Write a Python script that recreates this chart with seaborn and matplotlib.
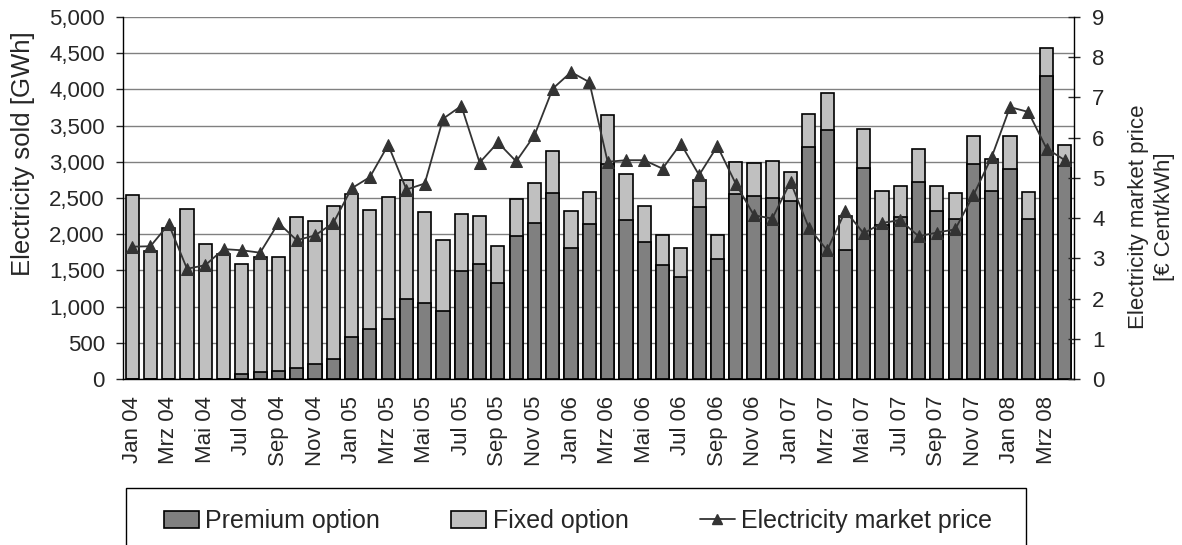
import numpy as np
import pandas as pd
import matplotlib
matplotlib.use('Agg')
import matplotlib.pyplot as plt
from matplotlib.patches import Patch, Rectangle
from matplotlib.lines import Line2D
import seaborn as sns

# monthly data Jan 04 - Apr 08
years = ['04', '05', '06', '07', '08']
month_names = ['Jan', 'Feb', 'Mrz', 'Apr', 'Mai', 'Jun', 'Jul', 'Aug', 'Sep', 'Okt', 'Nov', 'Dez']
labels = [f'{m} {y}' for y in years for m in month_names][:52]

total_gwh = [2540, 1770, 2085, 2345, 1870, 1730, 1595, 1690, 1680, 2240, 2180, 2395,
             2560, 2340, 2515, 2750, 2300, 1925, 2285, 2245, 1840, 2485, 2705, 3150,
             2320, 2585, 3650, 2825, 2385, 1985, 1805, 2745, 1990, 2995, 2985, 3010,
             2865, 3660, 3955, 2250, 3455, 2600, 2670, 3170, 2670, 2575, 3355, 3040,
             3360, 2585, 4570, 3235]
premium_gwh = [0, 0, 0, 0, 0, 0, 65, 100, 105, 150, 205, 280,
               575, 695, 830, 1105, 1055, 935, 1495, 1590, 1330, 1975, 2150, 2570,
               1810, 2135, 2975, 2190, 1890, 1575, 1410, 2380, 1660, 2550, 2525, 2500,
               2455, 3205, 3440, 1780, 2920, 2125, 2240, 2725, 2315, 2210, 2965, 2595,
               2900, 2215, 4180, 2945]
price = [3.29, 3.30, 3.85, 2.74, 2.83, 3.23, 3.20, 3.14, 3.88, 3.45, 3.57, 3.88,
         4.74, 5.02, 5.82, 4.71, 4.86, 6.47, 6.79, 5.38, 5.88, 5.41, 6.06, 7.22,
         7.63, 7.38, 5.40, 5.44, 5.44, 5.23, 5.85, 5.07, 5.79, 4.86, 4.07, 3.99,
         4.90, 3.76, 3.20, 4.18, 3.62, 3.88, 3.95, 3.55, 3.64, 3.72, 4.57, 5.52,
         6.76, 6.64, 5.73, 5.44]

df = pd.DataFrame({'month': labels, 'total': total_gwh,
                   'premium': premium_gwh, 'price': price})
df['idx'] = np.arange(len(df))

sns.set_style('white')
plt.rcParams['font.family'] = ['Liberation Sans', 'DejaVu Sans']

DARK = '#808080'
LIGHT = '#c0c0c0'
LINE = '#333333'
FS = 16
W, H = 1182, 545

fig = plt.figure(figsize=(W / 100, H / 100), dpi=100)
ax = fig.add_axes([123 / W, 1 - 379 / H, (1074 - 123) / W, (379 - 17) / H])

ax.yaxis.grid(True, color='#808080', linewidth=1)
ax.set_axisbelow(True)
sns.barplot(data=df, x='month', y='total', color=LIGHT, saturation=1,
            edgecolor='black', linewidth=1.2, width=0.72, ax=ax)
sns.barplot(data=df, x='month', y='premium', color=DARK, saturation=1,
            edgecolor='black', linewidth=1.2, width=0.72, ax=ax)

ax.set_xlim(-0.5, len(df) - 0.5)
ax.set_ylim(0, 5000)
ax.set_yticks(np.arange(0, 5001, 500))
ax.set_yticklabels([f'{v:,}' for v in range(0, 5001, 500)], fontsize=FS)
ax.set_xticks(df['idx'][::2])
ax.set_xticklabels(df['month'][::2], rotation=90, fontsize=FS)
ax.set_xticks(np.arange(-0.5, len(df), 2), minor=True)
ax.tick_params(axis='x', which='major', length=0, pad=12)
ax.tick_params(axis='x', which='minor', length=5, width=1, direction='out')
ax.tick_params(axis='y', length=5, width=1, direction='out', pad=8)
ax.set_xlabel('')
ax.set_ylabel('Electricity sold [GWh]', fontsize=18.5)
ax.yaxis.set_label_coords((35 - 123) / 951, (379 - 154) / 362)
for s in ['left', 'bottom']:
    ax.spines[s].set_color('black')
    ax.spines[s].set_linewidth(1)
ax.spines['top'].set_visible(False)
ax.spines['right'].set_visible(False)

ax2 = ax.twinx()
sns.lineplot(data=df, x='idx', y='price', color=LINE, linewidth=1.3,
             marker='^', markersize=8, markeredgecolor=LINE, ax=ax2)
ax2.set_ylim(0, 9)
ax2.set_yticks(range(0, 10))
ax2.tick_params(axis='y', labelsize=FS, length=8, width=1, direction='inout', pad=9)
ax2.set_ylabel('Electricity market price\n[€ Cent/kWh]', fontsize=16, linespacing=1.3)
ax2.yaxis.set_label_coords((1128 - 123) / 951, (379 - 217) / 362)
ax2.spines['top'].set_visible(False)
ax2.spines['left'].set_visible(False)
ax2.spines['bottom'].set_visible(False)
ax2.spines['right'].set_color('black')
ax2.spines['right'].set_linewidth(1)
ax2.set_xlim(-0.5, len(df) - 0.5)

# legend box, cut off by the bottom edge as in the original
fig.patches.append(Rectangle((126 / W, 1 - 560 / H), 900 / W, 72 / H,
                             transform=fig.transFigure, facecolor='white',
                             edgecolor='black', linewidth=1, zorder=0))
handles = [Patch(facecolor=DARK, edgecolor='black', linewidth=1.2),
           Patch(facecolor=LIGHT, edgecolor='black', linewidth=1.2),
           Line2D([], [], color=LINE, linewidth=1.3, marker='^', markersize=7)]
fig.legend(handles, ['Premium option', 'Fixed option', 'Electricity market price'],
           loc='center left', bbox_to_anchor=(164 / W, 1 - 521 / H),
           ncol=3, fontsize=18, frameon=False, borderpad=0, borderaxespad=0,
           handlelength=1.4, handleheight=0.65, handletextpad=0.25, columnspacing=2.85)

fig.savefig('out.png', dpi=100)
